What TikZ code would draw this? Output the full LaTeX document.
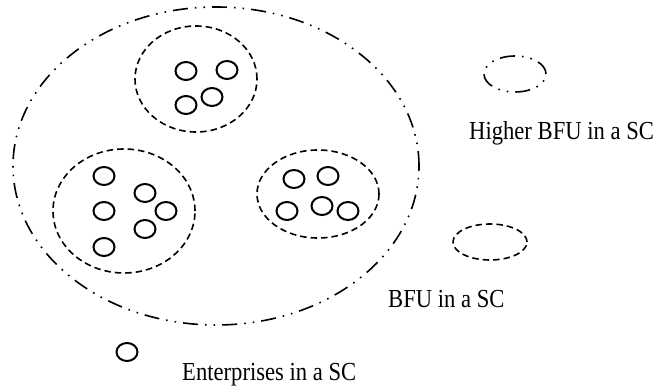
\documentclass[tikz,border=0pt]{standalone}
\usepackage{fontspec}
\setmainfont{Liberation Serif}
\newfontfamily\legendfont{Liberation Serif}[FakeStretch=0.87]
\usetikzlibrary{positioning}

\begin{document}
\begin{tikzpicture}[x=1pt, y=-1pt,
    firm/.style={line width=2pt},
    bfu/.style={line width=1.6pt, dash pattern=on 6.5pt off 4pt},
    higher/.style={line width=1.6pt, dash pattern=on 15pt off 7pt on 1.6pt off 7pt on 1.6pt off 7pt},
    legend/.style={font=\legendfont\fontsize{26}{30}\selectfont, inner sep=0pt}]

    \useasboundingbox (0,0) rectangle (658,387);

    \draw[higher] (216,166) ellipse [x radius=203pt, y radius=159pt];

    \draw[bfu] (196,79) ellipse [x radius=61pt, y radius=53pt];
    \draw[bfu] (124,211) ellipse [x radius=71pt, y radius=62pt];
    \draw[bfu] (318,194) ellipse [x radius=61pt, y radius=44pt];

    \foreach \x/\y in {186/71, 227/70, 186/105, 212/97,
                       104/176, 104/211, 104/247, 145/193, 166/211, 145/229,
                       294/179, 328/176, 287/211, 322/206, 348/211}
        \draw[firm] (\x,\y) ellipse [x radius=10.5pt, y radius=9pt];

    \draw[higher] (515,74) ellipse [x radius=31pt, y radius=18pt];
    \draw[bfu] (490,242) ellipse [x radius=37pt, y radius=18pt];
    \draw[firm] (127,352) ellipse [x radius=10.5pt, y radius=9pt];

    \node[legend, anchor=base west] (higherlabel) at (469,140) {Higher BFU in a SC};
    \node[legend, anchor=base west] (bfulabel) at (388,307) {BFU in a SC};
    \node[legend, anchor=base west] (firmlabel) at (182,380) {Enterprises in a SC};

\end{tikzpicture}
\end{document}
